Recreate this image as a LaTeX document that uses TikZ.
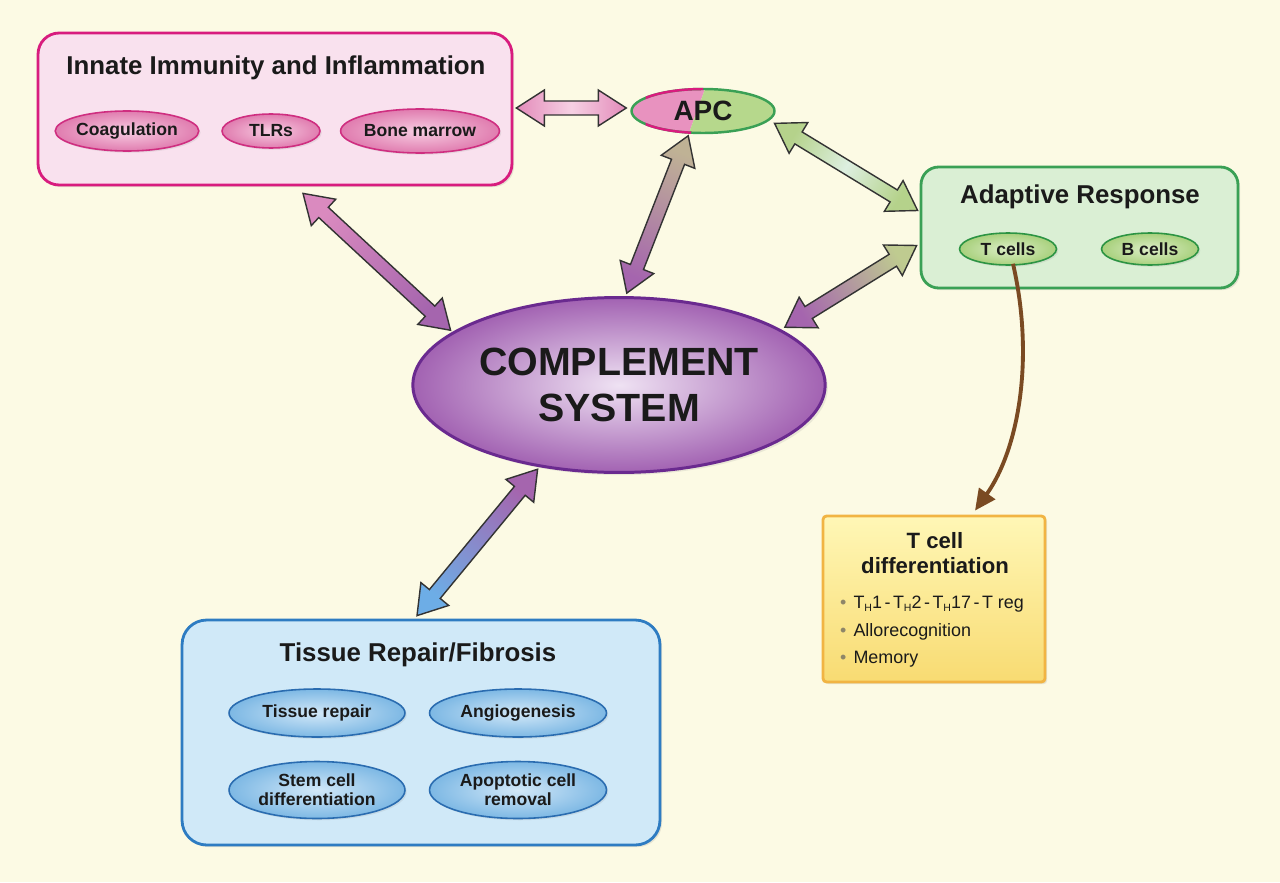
\documentclass[tikz,border=0pt]{standalone}
\usepackage{fontspec}
\setmainfont{Liberation Sans}
\usetikzlibrary{shapes.geometric,calc,shadows,arrows.meta}

\definecolor{bg}{HTML}{FCFAE4}
\definecolor{ink}{HTML}{1A1A1A}
\definecolor{innateln}{HTML}{D81C7E}
\definecolor{innatebg}{HTML}{F9E1EE}
\definecolor{pinkin}{HTML}{F7CDE2}
\definecolor{pinkout}{HTML}{E07CAF}
\definecolor{pinkln}{HTML}{CF2E80}
\definecolor{adaptln}{HTML}{3AA055}
\definecolor{adaptbg}{HTML}{DAEFD4}
\definecolor{greenin}{HTML}{DDEFC8}
\definecolor{greenout}{HTML}{A8D07C}
\definecolor{greenln}{HTML}{2C9443}
\definecolor{tissueln}{HTML}{2E7CC2}
\definecolor{tissuebg}{HTML}{D0E9F8}
\definecolor{bluein}{HTML}{D2E8F8}
\definecolor{blueout}{HTML}{7DB8E4}
\definecolor{blueln}{HTML}{2A6CB0}
\definecolor{compin}{HTML}{EFE2F3}
\definecolor{compout}{HTML}{A262B2}
\definecolor{compln}{HTML}{6A2A8F}
\definecolor{apcpink}{HTML}{E892BF}
\definecolor{apcgreen}{HTML}{B6D88C}
\definecolor{tdiffln}{HTML}{F1B443}
\definecolor{tdifftop}{HTML}{FFF7B6}
\definecolor{tdiffbot}{HTML}{F8DB72}
\definecolor{bul}{HTML}{8E8668}
\definecolor{brownln}{HTML}{7A4A22}
\definecolor{arpink}{HTML}{E38BBA}
\definecolor{arpinklt}{HTML}{F6D0E3}
\definecolor{arpinktwo}{HTML}{DA8ABF}
\definecolor{arpurple}{HTML}{A565AE}
\definecolor{artan}{HTML}{BFB295}
\definecolor{argreen}{HTML}{B5D28B}
\definecolor{argreenlt}{HTML}{DDEFE0}
\definecolor{arolive}{HTML}{BFCB90}
\definecolor{arblue}{HTML}{6DADE6}

\tikzstyle{panel}=[rectangle, line width=1.6pt, drop shadow={opacity=0.18, shadow xshift=1.2pt, shadow yshift=-1.2pt}]
\tikzstyle{title}=[font=\fontsize{14.7}{17}\selectfont\bfseries, text=ink]
\tikzstyle{blob}=[ellipse, inner sep=0pt, align=center, line width=0.9pt, font=\fontsize{10}{10.6}\selectfont\bfseries, text=ink, drop shadow={opacity=0.15, shadow xshift=1pt, shadow yshift=-1pt}]
\tikzstyle{pinkblob}=[draw=pinkln, inner color=pinkin, outer color=pinkout]
\tikzstyle{greenblob}=[draw=greenln, inner color=greenin, outer color=greenout]
\tikzstyle{blueblob}=[draw=blueln, inner color=bluein, outer color=blueout]
\tikzstyle{apcshape}=[ellipse, inner sep=0pt, minimum width=2.86cm, minimum height=0.88cm, line width=1.4pt]
\tikzstyle{fat}=[draw=black!80, line width=0.8pt, line join=miter]
\tikzstyle{brownarrow}=[line width=2.2pt, draw=brownln, -{Triangle[length=12pt,width=11pt]}]

\newcommand\fatHL{0.56cm}
\newcommand\fatHW{0.36cm}
\newcommand\fatSW{0.14cm}
\newcommand{\fatlink}[3]{%
  \path #1 coordinate (fatS) #2 coordinate (fatT);
  \pgfmathanglebetweenpoints{\pgfpointanchor{fatS}{center}}{\pgfpointanchor{fatT}{center}}%
  \let\fatA\pgfmathresult
  \pgfmathsetmacro\fatL{\fatA+90}%
  \pgfmathsetmacro\fatR{\fatA-90}%
  \pgfmathsetmacro\fatB{\fatA+180}%
  \shadedraw[fat, #3, shading angle=\fatL]
    (fatS) -- ($(fatS)+(\fatA:\fatHL)+(\fatL:\fatHW)$) -- ($(fatS)+(\fatA:\fatHL)+(\fatL:\fatSW)$)
    -- ($(fatT)+(\fatB:\fatHL)+(\fatL:\fatSW)$) -- ($(fatT)+(\fatB:\fatHL)+(\fatL:\fatHW)$) -- (fatT)
    -- ($(fatT)+(\fatB:\fatHL)+(\fatR:\fatHW)$) -- ($(fatT)+(\fatB:\fatHL)+(\fatR:\fatSW)$)
    -- ($(fatS)+(\fatA:\fatHL)+(\fatR:\fatSW)$) -- ($(fatS)+(\fatA:\fatHL)+(\fatR:\fatHW)$) -- cycle;
}
\newcommand\subH{\raisebox{-1.6pt}{\fontsize{6}{6}\selectfont H}}
\newcommand\dsh{\hspace{0.14em}-\hspace{0.14em}}

\begin{document}
\begin{tikzpicture}[x=0.02cm, y=-0.02cm]
\fill[bg] (0,0) rectangle (1280,882);
\useasboundingbox (0,0) rectangle (1280,882);

\node(innate)[panel, draw=innateln, fill=innatebg, rounded corners=12pt, minimum width=9.48cm, minimum height=3.04cm] at (275,109) {};
\node(innatet)[title] at (276,68) {Innate Immunity and Inflammation};
\node(coag)[blob, pinkblob, minimum width=2.78cm, minimum height=0.8cm] at (127,131) {Coagulation};
\node(tlr)[blob, pinkblob, minimum width=1.96cm, minimum height=0.68cm] at (271,131) {TLRs};
\node(bone)[blob, pinkblob, minimum width=2.9cm, minimum height=0.88cm] at (420,131) {Bone marrow};

\node(adaptive)[panel, draw=adaptln, fill=adaptbg, rounded corners=10pt, minimum width=6.34cm, minimum height=2.42cm] at (1079.5,227.5) {};
\node(adaptivet)[title] at (1080,197) {Adaptive Response};
\node(tcell)[blob, greenblob, minimum width=1.94cm, minimum height=0.64cm] at (1008,249) {T cells};
\node(bcell)[blob, greenblob, minimum width=1.94cm, minimum height=0.64cm] at (1150,249) {B cells};

\node(tissue)[panel, draw=tissueln, fill=tissuebg, rounded corners=14pt, minimum width=9.56cm, minimum height=4.5cm] at (421,732.5) {};
\node(tissuet)[title] at (418,655) {Tissue Repair/Fibrosis};
\node(repair)[blob, blueblob, minimum width=3.52cm, minimum height=0.96cm] at (317,713) {Tissue repair};
\node(angio)[blob, blueblob, minimum width=3.54cm, minimum height=0.96cm] at (518,713) {Angiogenesis};
\node(stem)[blob, blueblob, minimum width=3.52cm, minimum height=1.14cm] at (317,790) {Stem cell\\differentiation};
\node(apopt)[blob, blueblob, minimum width=3.54cm, minimum height=1.14cm] at (518,790) {Apoptotic cell\\removal};

\node(tdiff)[panel, draw=tdiffln, top color=tdifftop, bottom color=tdiffbot, rounded corners=2pt, minimum width=4.44cm, minimum height=3.32cm] at (934,599) {};
\node(tdifft)[align=center, font=\fontsize{12.6}{14.2}\selectfont\bfseries, text=ink] at (935,553) {T cell\\differentiation};
\node(tlist)[anchor=west, align=left, font=\fontsize{10.2}{15.6}\selectfont, text=ink] at (834,632)
  {\textcolor{bul}{\textbullet}\hspace{4pt}T\subH1\dsh T\subH2\dsh T\subH17\dsh T reg\\
   \textcolor{bul}{\textbullet}\hspace{4pt}Allorecognition\\
   \textcolor{bul}{\textbullet}\hspace{4pt}Memory};

\node(cs)[ellipse, draw=compln, line width=1.7pt, inner color=compin, outer color=compout, minimum width=7.88cm, minimum height=3.5cm, align=center, font=\fontsize{22.4}{26.6}\selectfont\bfseries, text=ink, drop shadow={opacity=0.15, shadow xshift=1.5pt, shadow yshift=-1.5pt}] at (619,385) {COMPLEMENT\\SYSTEM};

\node(apc)[apcshape, draw=adaptln, font=\fontsize{15.9}{18}\selectfont\bfseries, text=ink, path picture={
  \fill[apcpink] (path picture bounding box.south west) -- ($(path picture bounding box.south)+(-14,0)$) -- ($(path picture bounding box.north)+(2,0)$) -- (path picture bounding box.north west) -- cycle;
  \fill[apcgreen] (path picture bounding box.south east) -- ($(path picture bounding box.south)+(-14,0)$) -- ($(path picture bounding box.north)+(2,0)$) -- (path picture bounding box.north east) -- cycle;
}] at (703,111) {APC};
\begin{scope}
\clip ($(apc.south west)+(-6,6)$) -- ($(apc.south)+(-14,6)$) -- ($(apc.north)+(2,-6)$) -- ($(apc.north west)+(-6,-6)$) -- cycle;
\node(apcrim)[apcshape, draw=innateln] at (apc) {};
\end{scope}

\fatlink{($(innate.east)+(3,-1)$)}{($(apc.west)+(-4,-3)$)}{top color=arpink, bottom color=arpink, middle color=arpinklt}
\fatlink{($(innate.south)+(28,7)$)}{($(cs.162)+(-3,-1)$)}{top color=arpinktwo, bottom color=arpurple}
\fatlink{($(apc.237)+(0,2)$)}{($(cs.85)+(0,-3)$)}{top color=artan, bottom color=arpurple}
\fatlink{($(apc.-8)+(5,3)$)}{($(adaptive.west)+(-2,-17)$)}{top color=argreen, bottom color=argreen, middle color=argreenlt}
\fatlink{($(cs.19)+(4,-2)$)}{($(adaptive.west)+(-3,18)$)}{top color=arpurple, bottom color=arolive}
\fatlink{($(cs.226)+(-2,2)$)}{($(tissue.north)+(-4,-3)$)}{top color=arpurple, bottom color=arblue}

\draw[brownarrow] ($(tcell.south)+(5,-2)$) .. controls (1035,360) and (1018,450) .. ($(tdiff.north)+(41,-4)$);

\end{tikzpicture}
\end{document}
